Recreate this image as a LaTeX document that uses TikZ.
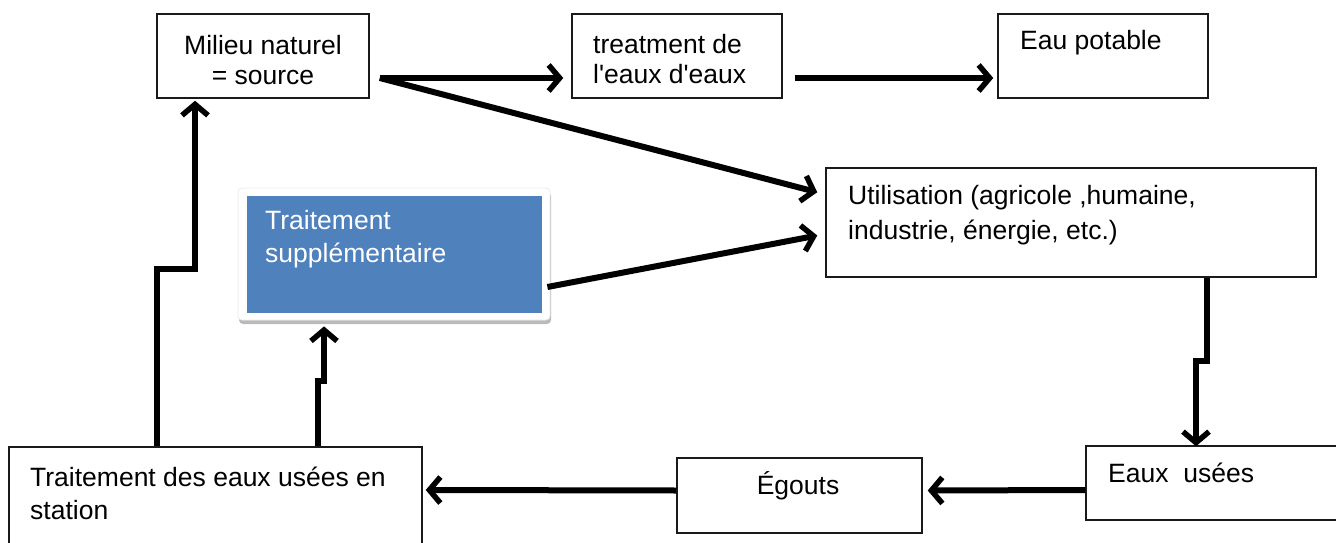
\documentclass[tikz,border=0pt]{standalone}
\usepackage{fontspec}
\setmainfont{Liberation Sans}
\usetikzlibrary{arrows.meta,shadows,calc}
\definecolor{boxblue}{HTML}{4F81BD}
\definecolor{edge}{HTML}{1A1A1A}
\begin{document}
\begin{tikzpicture}[x=1pt,y=-1pt,
  every node/.style={font=\fontsize{26.5}{31}\selectfont},
  box/.style={draw=edge,line width=1.5pt,fill=white,inner sep=0pt,rectangle},
  txt/.style={inner sep=0pt,align=left,text=black},
  arr/.style={line width=6pt,black,-{Straight Barb[length=11pt,width=26pt,line width=5.5pt]}}]
\useasboundingbox (0,0) rectangle (1336,543);
\clip (0,0) rectangle (1336,543);

% boxes
\node[box,minimum width=212pt,minimum height=84pt] (milieu) at (263,56) {};
\node[box,minimum width=210pt,minimum height=84pt] (treat) at (677,56) {};
\node[box,minimum width=210pt,minimum height=84pt] (potable) at (1103,56) {};
\node[box,minimum width=490pt,minimum height=109pt] (util) at (1071,222.5) {};
\node[box,minimum width=413pt,minimum height=130pt] (station) at (215.5,512) {};
\node[box,minimum width=245pt,minimum height=75pt] (egouts) at (799.5,495.5) {};
\node[box,minimum width=256pt,minimum height=74pt] (usees) at (1214,483) {};

% supplementary treatment: blue panel on a white shadowed card
\node[rectangle,rounded corners=4pt,fill=white,draw=black!8,line width=0.8pt,
  minimum width=312pt,minimum height=132pt,
  drop shadow={shadow xshift=1pt,shadow yshift=-4pt,fill=black!45,opacity=0.6}] (card) at (394,254) {};
\node[rectangle,fill=boxblue,minimum width=295pt,minimum height=117pt,inner sep=0pt] (supp) at (card.center) {};

% texts
\node[txt,align=center,font=\fontsize{26.5}{30}\selectfont] (tmilieu) at (263,60) {Milieu naturel\\= source};
\node[txt,anchor=west,font=\fontsize{26.5}{30}\selectfont] (ttreat) at (593,59) {treatment de\\l\textquotesingle eaux d\textquotesingle eaux};
\node[txt,anchor=west] (tpotable) at (1020,43) {Eau potable};
\node[txt,anchor=west,font=\fontsize{26.5}{35}\selectfont] (tutil) at (848,215) {Utilisation (agricole ,humaine,\\industrie, énergie, etc.)};
\node[txt,anchor=west,text=white,font=\fontsize{26.5}{33}\selectfont] (tsupp) at (265,239) {Traitement\\supplémentaire};
\node[txt,anchor=west,font=\fontsize{26.5}{33}\selectfont] (tstation) at (30,493) {Traitement des eaux usées en\\station};
\node[txt] (tegouts) at (798,486) {Égouts};
\node[txt,anchor=west] (tusees) at (1108,473) {Eaux\ \ usées};

% connectors
\draw[arr] ([xshift=10pt,yshift=-22pt]milieu.east) -- ([xshift=-8pt,yshift=-22pt]treat.west);
\draw[arr] ([xshift=12pt,yshift=-22pt]treat.east) -- ([xshift=-4pt,yshift=-22pt]potable.west);
\draw[arr] ([xshift=10pt,yshift=-22pt]milieu.east) -- ([xshift=-8pt,yshift=-25pt]util.north west);
\draw[arr] ([xshift=-3pt,yshift=-33pt]card.east) -- ([xshift=-8pt,yshift=-13pt]util.west);
\draw[arr] ([xshift=136pt]util.south) -- ++(0,83) -| ([xshift=-18pt,yshift=-1pt]usees.north);
\draw[arr] ([yshift=-7pt]usees.west) -- ([xshift=5pt,yshift=5pt]egouts.east);
\draw[arr] ([yshift=5pt]egouts.west) -- ([xshift=3pt,yshift=22pt]station.east);
\draw[arr] ([xshift=-58.5pt]station.north) -- ++(0,-177) -| ([xshift=-68pt,yshift=-2pt]milieu.south);
\draw[arr] ([xshift=102.5pt]station.north) -- ++(0,-65) -| ([xshift=-70pt,yshift=-6pt]card.south);
\end{tikzpicture}
\end{document}
